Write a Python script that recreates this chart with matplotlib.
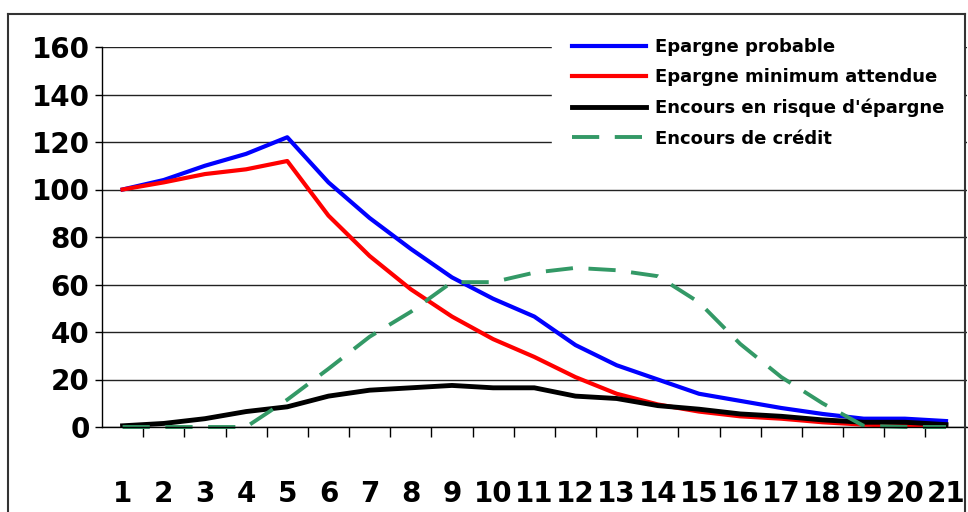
import matplotlib
matplotlib.use("Agg")
import matplotlib.pyplot as plt
from matplotlib.lines import Line2D

periods = list(range(1, 22))
epargne_probable = [100, 104, 110, 115, 122, 103, 88, 75, 63, 54, 46.5, 34.5, 26, 20, 14, 11, 8, 5.5, 3.5, 3.5, 2.5]
epargne_minimum = [100, 103, 106.5, 108.5, 112, 89, 72, 58, 46.5, 37, 29.5, 21, 14, 9.5, 6.5, 4.5, 3.5, 2, 1, 0.5, 0.5]
encours_risque = [0.5, 1.5, 3.5, 6.5, 8.5, 13, 15.5, 16.5, 17.5, 16.5, 16.5, 13, 12, 9, 7.5, 5.5, 4.5, 3, 2, 2, 1]
encours_credit = [0, 0, 0, 0, 11.5, 24.5, 38, 48.5, 61, 61, 65, 67, 66, 63.5, 52.5, 35, 21, 10, 0.5, 0, 0]
labels = ["Epargne probable", "Epargne minimum attendue",
          "Encours en risque d'épargne", "Encours de crédit"]
yticks = [0, 20, 40, 60, 80, 100, 120, 140, 160]

W, H = 968, 512
fig = plt.figure(figsize=(W / 100, H / 100), dpi=100)
ax = fig.add_axes([102 / W, 85 / H, (966.6 - 102) / W, 380 / H])

ax.plot(periods, epargne_probable, color="#0000FF", lw=3.0, label=labels[0])
ax.plot(periods, epargne_minimum, color="#FF0000", lw=3.0, label=labels[1])
ax.plot(periods, encours_risque, color="#000000", lw=3.5, label=labels[2])
ax.plot(periods, encours_credit, color="#339966", lw=2.8, ls=(0, (7, 4)), label=labels[3], clip_on=False)

ax.set_xlim(0.5, 21.5)
ax.set_ylim(0, 160)
ax.set_yticks(yticks)
ax.set_yticklabels([str(v) for v in yticks])
ax.set_xticks(periods)
ax.set_xticklabels([str(p) for p in periods])
ax.set_xticks([p + 0.5 for p in periods[:-1]], minor=True)

for s in ["top", "right"]:
    ax.spines[s].set_visible(False)
ax.spines["left"].set_color("#000000")
ax.spines["left"].set_linewidth(1.0)
ax.spines["bottom"].set_color("#000000")
ax.spines["bottom"].set_linewidth(1.0)

ax.yaxis.grid(True, color="#222222", lw=1.0)
ax.set_axisbelow(True)

ax.tick_params(axis="y", direction="out", length=5, width=1, pad=4, labelsize=20)
ax.tick_params(axis="x", which="major", length=0, pad=38, labelsize=20)
ax.tick_params(axis="x", which="minor", direction="out", length=7, width=1)
for lab in ax.get_xticklabels() + ax.get_yticklabels():
    lab.set_fontweight("bold")

leg = ax.legend(loc="upper left", bbox_to_anchor=(552 / W, 1 - 18 / H),
                bbox_transform=fig.transFigure, frameon=True, fancybox=False,
                edgecolor="white", facecolor="white", framealpha=1,
                prop={"weight": "bold", "size": 13}, handlelength=4.1,
                handletextpad=0.5, labelspacing=0.69, borderpad=1.1,
                borderaxespad=0)

# outer frame
fx = lambda x: x / W
fy = lambda y: 1 - y / H
frame_kw = dict(color="#333333", lw=1.5, transform=fig.transFigure)
fig.add_artist(Line2D([fx(8), fx(8)], [fy(14), 0], **frame_kw))
fig.add_artist(Line2D([fx(8), fx(965)], [fy(14), fy(14)], **frame_kw))
fig.add_artist(Line2D([fx(965), fx(965)], [fy(14), 0], **frame_kw))

fig.savefig("out.png", dpi=100)
